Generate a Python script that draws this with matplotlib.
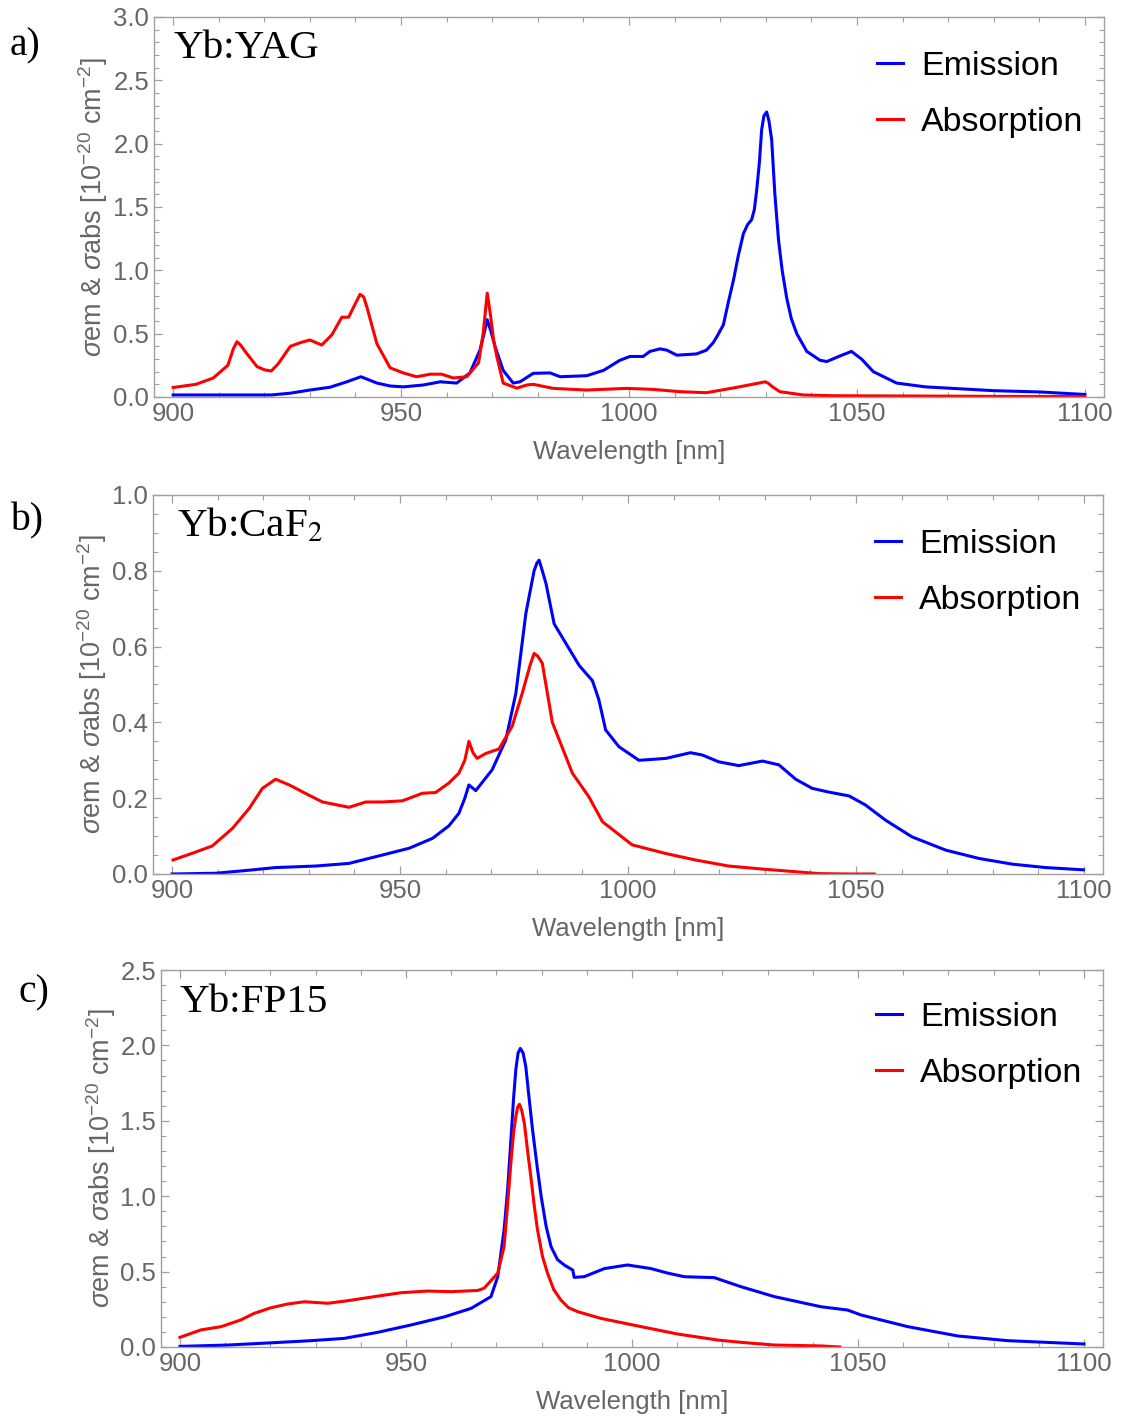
import matplotlib
matplotlib.use('Agg')
import matplotlib.pyplot as plt
from matplotlib.ticker import MultipleLocator, FormatStrFormatter

plt.rcParams['font.family'] = ['Liberation Sans', 'DejaVu Sans']
plt.rcParams['mathtext.fontset'] = 'custom'
plt.rcParams['mathtext.rm'] = 'Liberation Sans'
plt.rcParams['mathtext.it'] = 'Liberation Sans:italic'

# ---------------- data: Yb:YAG ----------------
yag_em_wl = [900, 910, 921.5, 925.7, 930, 934.4, 938.1, 941.2, 944.7, 947.6, 950.5, 954.9,
             958.6, 962.2, 965.1, 967.3, 968.2, 968.9, 969.7, 970.6, 972.4, 974.6, 976.1,
             979, 982.7, 984.9, 990.7, 994.4, 998, 1000.2, 1003.1, 1004.6, 1006.8, 1008.3,
             1010.5, 1014.8, 1017, 1018.5, 1019.5, 1020.7, 1021.8, 1022.9, 1024, 1025.1,
             1026, 1026.9, 1027.5, 1028, 1028.6, 1029.1, 1029.6, 1030.2, 1030.7, 1031.3,
             1032, 1032.8, 1033.6, 1034.6, 1035.6, 1036.8, 1039, 1041.9, 1043.4, 1046,
             1048.8, 1051, 1053.6, 1058.7, 1065, 1070, 1080, 1090, 1100]
yag_em = [0.016, 0.016, 0.016, 0.03, 0.055, 0.077, 0.12, 0.16, 0.11, 0.087, 0.08, 0.095,
          0.12, 0.11, 0.19, 0.37, 0.50, 0.61, 0.52, 0.40, 0.21, 0.11, 0.12,
          0.187, 0.19, 0.16, 0.168, 0.21, 0.29, 0.32, 0.32, 0.36, 0.38, 0.37,
          0.33, 0.34, 0.37, 0.43, 0.49, 0.57, 0.75, 0.92, 1.12, 1.29,
          1.36, 1.40, 1.48, 1.63, 1.85, 2.11, 2.22, 2.25, 2.18, 2.03,
          1.60, 1.24, 1.00, 0.78, 0.62, 0.50, 0.36, 0.29, 0.28, 0.32,
          0.36, 0.30, 0.20, 0.11, 0.08, 0.07, 0.05, 0.04, 0.02]
yag_abs_wl = [900, 905, 908.8, 912, 913.2, 914, 914.8, 916, 918.4, 920, 921.5, 923, 925.7,
              928, 930, 932.6, 934.8, 937, 938.5, 940, 941, 941.8, 942.5, 944.7, 947.6,
              950.5, 953.4, 956.4, 958.9, 961.5, 964.4, 967, 968, 968.9, 969.6, 970.3,
              971, 972.4, 975.4, 977.6, 979, 983.4, 990.7, 999.5, 1005.3, 1011.2, 1017,
              1023.6, 1029.2, 1029.8, 1030.5, 1031.5, 1033.1, 1038.2, 1045, 1060, 1080, 1100]
yag_abs = [0.075, 0.10, 0.15, 0.25, 0.38, 0.437, 0.41, 0.35, 0.24, 0.215, 0.205, 0.26, 0.40,
           0.43, 0.45, 0.41, 0.49, 0.63, 0.63, 0.74, 0.81, 0.79, 0.71, 0.42, 0.23,
           0.19, 0.16, 0.18, 0.18, 0.15, 0.16, 0.27, 0.50, 0.82, 0.65, 0.45,
           0.32, 0.11, 0.07, 0.095, 0.10, 0.068, 0.055, 0.068, 0.06, 0.042, 0.034,
           0.076, 0.115, 0.12, 0.11, 0.08, 0.042, 0.016, 0.01, 0.008, 0.005, 0.003]

# ---------------- data: Yb:CaF2 ----------------
caf2_em_wl = [900, 909.6, 916.9, 922.7, 931.5, 938.8, 946.1, 952, 957.1, 960.7, 962.9,
              964.2, 965.1, 966.6, 970.2, 973.2, 975.4, 977.6, 979.4, 980, 980.5, 981.2,
              982, 983.8, 986.3, 989.3, 992.2, 993.6, 995.1, 998, 1002.4, 1008.3, 1013.7,
              1016.3, 1019.9, 1024.3, 1029.5, 1033.1, 1036.8, 1040.4, 1044.1, 1048.5,
              1052.1, 1056.5, 1062.3, 1069.7, 1077, 1084.3, 1091.6, 1099.9]
caf2_em = [0.0, 0.002, 0.01, 0.017, 0.021, 0.028, 0.05, 0.068, 0.094, 0.127, 0.16,
           0.20, 0.235, 0.22, 0.275, 0.354, 0.477, 0.688, 0.80, 0.82, 0.828, 0.80,
           0.767, 0.66, 0.61, 0.55, 0.51, 0.46, 0.38, 0.336, 0.30, 0.305, 0.32,
           0.314, 0.296, 0.286, 0.298, 0.288, 0.25, 0.226, 0.216, 0.206,
           0.182, 0.142, 0.098, 0.063, 0.041, 0.026, 0.017, 0.011]
caf2_abs_wl = [900.2, 904.5, 908.8, 913.2, 916.9, 919.8, 922.7, 925.7, 930, 933, 938.8,
               942.5, 946.1, 950.5, 954.9, 957.8, 960.7, 962.9, 964.2, 965.1, 966, 966.9,
               968.8, 971.7, 974.6, 976.8, 978.5, 979.4, 980.2, 981.2, 983.4, 987.8, 991.4,
               994.4, 1000.9, 1008.3, 1014.8, 1022.1, 1029.5, 1036.8, 1041.9, 1048.5, 1054]
caf2_abs = [0.037, 0.055, 0.074, 0.12, 0.173, 0.226, 0.25, 0.235, 0.208, 0.19, 0.176,
            0.19, 0.19, 0.193, 0.213, 0.215, 0.24, 0.266, 0.30, 0.35, 0.32, 0.305,
            0.318, 0.33, 0.39, 0.477, 0.55, 0.582, 0.575, 0.556, 0.40, 0.266, 0.204,
            0.138, 0.077, 0.054, 0.037, 0.021, 0.013, 0.006, 0.001, 0.0, 0.0]

# ---------------- data: Yb:FP15 ----------------
fp15_em_wl = [900, 910.6, 921.6, 929, 936.3, 943.7, 951.1, 958.5, 964.4, 968.8, 970.3,
              971.7, 972.5, 973.2, 973.8, 974.3, 974.8, 975.3, 975.9, 976.5, 977.2, 978,
              979, 979.9, 981, 982.1, 983.5, 985, 986.9, 987.2, 989.4, 993.9, 999, 1004.2,
              1007.9, 1011.6, 1018.2, 1024.1, 1031.5, 1041.8, 1047.7, 1050.7, 1061, 1072.1,
              1083.1, 1100]
fp15_em = [0.004, 0.013, 0.03, 0.042, 0.057, 0.097, 0.146, 0.2, 0.256, 0.334, 0.466,
           0.776, 1.05, 1.37, 1.65, 1.84, 1.95, 1.98, 1.95, 1.86, 1.66, 1.44,
           1.2, 1.0, 0.8, 0.665, 0.58, 0.544, 0.51, 0.462, 0.466, 0.52, 0.544, 0.52,
           0.49, 0.466, 0.46, 0.40, 0.334, 0.267, 0.245, 0.212, 0.135, 0.073,
           0.042, 0.02]
fp15_abs_wl = [900, 904.6, 909.1, 913.5, 916.4, 920.1, 923.8, 927.5, 932.7, 937.1, 943,
               948.9, 954.8, 960, 965.9, 967.3, 970.3, 971.7, 972.5, 973.2, 973.8, 974.3,
               974.7, 975.1, 975.6, 976.2, 976.9, 977.7, 978.4, 979.1, 980.2, 981.3, 982.7,
               984.3, 986, 988, 993.1, 1000.2, 1010.1, 1019, 1024.1, 1031.5, 1041.8, 1046]
fp15_abs = [0.064, 0.113, 0.135, 0.18, 0.223, 0.26, 0.285, 0.30, 0.29, 0.307, 0.334,
            0.36, 0.371, 0.367, 0.375, 0.39, 0.49, 0.665, 0.95, 1.22, 1.42, 1.53,
            1.59, 1.61, 1.57, 1.48, 1.30, 1.11, 0.93, 0.776, 0.60, 0.49, 0.38,
            0.31, 0.26, 0.234, 0.19, 0.146, 0.086, 0.046, 0.031, 0.013, 0.007, 0.0]

panel_letters = ['a)', 'b)', 'c)']
panel_titles = ['Yb:YAG', 'Yb:CaF$_2$', 'Yb:FP15']
legend_labels = ['Emission', 'Absorption']
x_label = 'Wavelength [nm]'
y_label = r'$\sigma$em & $\sigma$abs [10$^{-20}$ cm$^{-2}$]'

W, H = 1122, 1416
fig = plt.figure(figsize=(W / 100, H / 100), dpi=100)

panels = [
    dict(px=(154, 17, 1104, 397), ymax=3.0, ymaj=0.5, ymin=0.1,
         em=(yag_em_wl, yag_em), ab=(yag_abs_wl, yag_abs),
         letter_xy=(10, 46), title_xy=(174, 49), leg=(0.761, 0.910)),
    dict(px=(153, 495, 1103, 874), ymax=1.0, ymaj=0.2, ymin=0.05,
         em=(caf2_em_wl, caf2_em), ab=(caf2_abs_wl, caf2_abs),
         letter_xy=(10, 521), title_xy=(177, 526), leg=(0.760, 0.910)),
    dict(px=(161, 970, 1103, 1347), ymax=2.5, ymaj=0.5, ymin=0.1,
         em=(fp15_em_wl, fp15_em), ab=(fp15_abs_wl, fp15_abs),
         letter_xy=(18, 993), title_xy=(180, 1003), leg=(0.759, 0.915)),
]

spine_col = '#a0a0a0'
lab_col = '#666666'

for i, p in enumerate(panels):
    l, t, r, b = p['px']
    ax = fig.add_axes([l / W, 1 - b / H, (r - l) / W, (b - t) / H])
    h1, = ax.plot(*p['em'], color='#0000FF', lw=2.2, solid_joinstyle='round')
    h2, = ax.plot(*p['ab'], color='#FF0000', lw=2.2, solid_joinstyle='round')
    ax.set_xlim(895.8, 1104.2)
    ax.set_ylim(0, p['ymax'])
    ax.xaxis.set_major_locator(MultipleLocator(50))
    ax.xaxis.set_minor_locator(MultipleLocator(10))
    ax.yaxis.set_major_locator(MultipleLocator(p['ymaj']))
    ax.yaxis.set_minor_locator(MultipleLocator(p['ymin']))
    ax.yaxis.set_major_formatter(FormatStrFormatter('%.1f'))
    ax.xaxis.set_major_formatter(FormatStrFormatter('%d'))
    ax.tick_params(which='both', direction='in', top=True, right=True,
                   color=spine_col, labelcolor=lab_col, labelsize=18.5)
    ax.tick_params(which='major', length=6, width=0.9)
    ax.tick_params(which='minor', length=3.5, width=0.8)
    for s in ax.spines.values():
        s.set_color(spine_col)
        s.set_linewidth(1.0)
    ax.set_xlabel(x_label, fontsize=18.5, color=lab_col, labelpad=10)
    ax.set_ylabel(y_label, fontsize=19.5, color=lab_col)
    ax.yaxis.set_label_coords(-0.046, 0.5)
    ax.legend([h1, h2], legend_labels, loc='upper left', bbox_to_anchor=p['leg'],
              frameon=False, fontsize=24.5, handlelength=0.77, handletextpad=0.53,
              labelspacing=0.72, borderpad=0, borderaxespad=0)
    lx, ly = p['letter_xy']
    fig.text(lx / W, 1 - ly / H, panel_letters[i], fontsize=28.5, va='center', ha='left',
             family='Liberation Serif')
    tx, ty = p['title_xy']
    fig.text(tx / W, 1 - ty / H, panel_titles[i], fontsize=29.5, va='center', ha='left',
             family='Liberation Serif', math_fontfamily='stix')

fig.savefig('out.png', dpi=100)
